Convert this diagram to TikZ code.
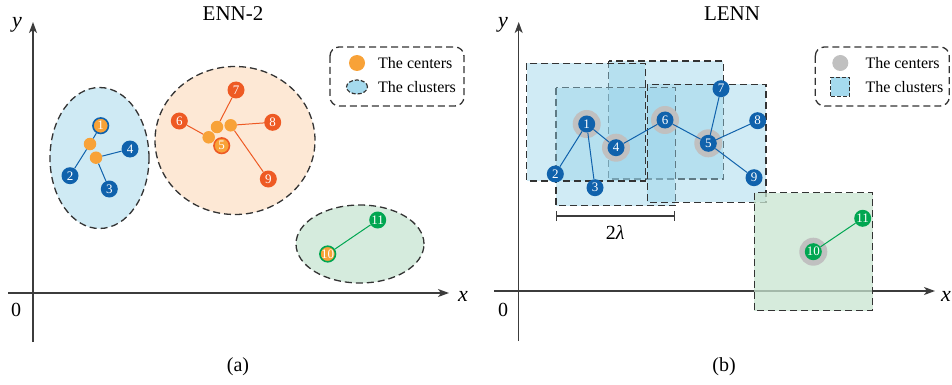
\documentclass[tikz,border=0pt]{standalone}
\usepackage{fontspec}
\setmainfont{Liberation Serif}
\usepackage{tikz}
\usetikzlibrary{
  arrows.meta,
  positioning,
  shapes.geometric
}
\definecolor{ptblue}{RGB}{16,98,172}
\definecolor{ptred}{RGB}{238,90,36}
\definecolor{ptgreen}{RGB}{0,166,81}
\definecolor{ctrorange}{RGB}{248,162,56}
\definecolor{halogray}{RGB}{192,192,192}
\definecolor{fillblue}{RGB}{207,234,244}
\definecolor{fillorange}{RGB}{253,232,213}
\definecolor{fillgreen}{RGB}{213,235,221}
\definecolor{iconblue}{RGB}{165,218,238}
\definecolor{boxblue}{RGB}{150,210,232}
\definecolor{boxgreen}{RGB}{200,228,208}
\definecolor{axisgray}{RGB}{60,60,60}
\tikzset{
  pt/.style={circle, inner sep=0pt, minimum size=17pt, text=white,
    font=\fontsize{13}{13}\selectfont},
  bluept/.style={pt, fill=ptblue},
  redpt/.style={pt, fill=ptred},
  greenpt/.style={pt, fill=ptgreen},
  ctrpt/.style={pt, fill=ctrorange, draw=#1, line width=1.6pt, minimum size=15.5pt},
  ctrdot/.style={circle, fill=ctrorange, inner sep=0pt, minimum size=12.5pt},
  halo/.style={circle, fill=halogray, inner sep=0pt, minimum size=28pt},
  dashline/.style={draw=black!80, line width=1.3pt, dash pattern=on 7pt off 4pt},
  clusterell/.style={ellipse, dashline, inner sep=0pt},
  clusterbox/.style={dashline, fill=boxblue, fill opacity=0.45},
  legendbox/.style={dashline, rounded corners=9pt},
  edge/.style={line width=1pt},
  axis/.style={draw=axisgray, line width=1.3pt,
    -{Stealth[length=11pt, width=8pt, inset=3pt]}},
  titletext/.style={font=\fontsize{21}{21}\selectfont},
  captext/.style={font=\fontsize{20}{20}\selectfont},
  legtext/.style={anchor=west, inner sep=0pt, font=\fontsize{16}{16}\selectfont},
  axlabel/.style={font=\fontsize{22}{22}\selectfont\itshape},
  zerotext/.style={font=\fontsize{20}{20}\selectfont},
}

\begin{document}
\begin{tikzpicture}[x=1pt, y=-1pt]
  \useasboundingbox (0,0) rectangle (952,385);

  % ---------- (a) ENN-2 ----------
  \node[titletext] (titleA) at (233,14) {ENN-2};
  \coordinate (yA0) at (33,342);
  \coordinate (yA1) at (33,22);
  \coordinate (xA0) at (8,293);
  \coordinate (xA1) at (449,293);
  \draw[axis] (yA0) -- (yA1);
  \draw[axis] (xA0) -- (xA1);
  \node[axlabel] (ylabA) at (17,25) {y};
  \node[axlabel] (xlabA) at (463,296) {x};
  \node[zerotext] (zeroA) at (16,310) {0};
  \node[captext] (capA) at (238,367) {(a)};

  % clusters
  \node[clusterell, fill=fillblue, minimum width=99pt, minimum height=141pt]
    (ellA) at (99.5,158) {};
  \node[clusterell, fill=fillorange, minimum width=160pt, minimum height=148pt]
    (ellB) at (235,140.5) {};
  \node[clusterell, fill=fillgreen, minimum width=128pt, minimum height=78pt]
    (ellC) at (360,244) {};

  % blue cluster
  \node[ctrpt=ptblue] (a1) at (100.7,125.7) {1};
  \node[bluept] (a2) at (70,175.7) {2};
  \node[bluept] (a3) at (109.3,189) {3};
  \node[bluept] (a4) at (130,149) {4};
  \node[ctrdot] (ca1) at (90,144) {};
  \node[ctrdot] (ca2) at (96,157.7) {};
  \draw[edge, ptblue] (a1) -- (ca1);
  \draw[edge, ptblue] (ca1) -- (a2);
  \draw[edge, ptblue] (ca2) -- (a4);
  \draw[edge, ptblue] (ca2) -- (a3);

  % orange cluster
  \node[ctrpt=ptred] (a5) at (221.7,145.7) {5};
  \node[redpt] (a6) at (179.3,121) {6};
  \node[redpt] (a7) at (236,90) {7};
  \node[redpt] (a8) at (272.7,122.3) {8};
  \node[redpt] (a9) at (268.3,179) {9};
  \node[ctrdot] (cb1) at (208.7,137.3) {};
  \node[ctrdot] (cb2) at (217,127) {};
  \node[ctrdot] (cb3) at (230.7,125.3) {};
  \draw[edge, ptred] (a6) -- (cb1);
  \draw[edge, ptred] (cb2) -- (a7);
  \draw[edge, ptred] (cb3) -- (a8);
  \draw[edge, ptred] (cb3) -- (a9);

  % green cluster
  \node[ctrpt=ptgreen] (a10) at (327.7,254) {10};
  \node[greenpt] (a11) at (377.7,220) {11};
  \draw[edge, ptgreen] (a10) -- (a11);

  % legend
  \draw[legendbox] (330,47) rectangle (464,106);
  \node[ctrdot, minimum size=16pt] (lgdotA) at (357,63) {};
  \node[legtext] (lgtxtA1) at (378,63) {The centers};
  \node[ellipse, draw=black!80, line width=1.2pt, dash pattern=on 4pt off 2pt,
    fill=iconblue, minimum width=21pt, minimum height=14pt, inner sep=0pt]
    (lgellA) at (357,87) {};
  \node[legtext] (lgtxtA2) at (378,87) {The clusters};

  % ---------- (b) LENN ----------
  \node[titletext] (titleB) at (732,14) {LENN};
  \coordinate (yB0) at (518.7,341);
  \coordinate (yB1) at (518.7,22);
  \coordinate (xB0) at (494,291);
  \coordinate (xB1) at (935,291);
  \draw[axis] (yB0) -- (yB1);
  \draw[axis] (xB0) -- (xB1);
  \node[axlabel] (ylabB) at (503,25) {y};
  \node[axlabel] (xlabB) at (946,296) {x};
  \node[zerotext] (zeroB) at (503,310) {0};
  \node[captext] (capB) at (724,367) {(b)};

  % clusters
  \draw[clusterbox] (608.7,61) rectangle (723.3,179);
  \draw[clusterbox] (556,87.7) rectangle (675.3,205.7);
  \draw[clusterbox] (526.7,63.3) rectangle (645.3,181);
  \draw[clusterbox] (647.3,84.3) rectangle (766,202.3);
  \draw[dashline, fill=boxgreen, fill opacity=0.75] (754.3,192.7) rectangle (872.7,310.7);

  % centers
  \node[halo] (h1) at (586.7,124) {};
  \node[halo] (h4) at (616,147.7) {};
  \node[halo] (h6) at (665,120) {};
  \node[halo] (h5) at (708.3,143.3) {};
  \node[halo] (h10) at (813.3,251.7) {};

  % points
  \node[bluept] (b1) at (h1) {1};
  \node[bluept] (b2) at (555.3,174) {2};
  \node[bluept] (b3) at (595,187.7) {3};
  \node[bluept] (b4) at (h4) {4};
  \node[bluept] (b5) at (h5) {5};
  \node[bluept] (b6) at (h6) {6};
  \node[bluept] (b7) at (721,88.7) {7};
  \node[bluept] (b8) at (757.7,120.7) {8};
  \node[bluept] (b9) at (754,177.7) {9};
  \node[greenpt] (b10) at (h10) {10};
  \node[greenpt] (b11) at (862.7,218.3) {11};
  \foreach \u/\v in {b1/b2, b1/b3, b1/b4, b4/b6, b6/b5, b5/b7, b5/b8, b5/b9}
    \draw[edge, ptblue] (\u) -- (\v);
  \draw[edge, ptgreen] (b10) -- (b11);

  % 2 lambda
  \coordinate (lamL) at (556,216);
  \coordinate (lamR) at (675.3,216);
  \draw[axisgray, line width=1.2pt, {Bar[width=10pt]}-{Bar[width=10pt]}] (lamL) -- (lamR);
  \node[font=\fontsize{20}{20}\selectfont] (lamtxt) at (615.3,232) {2\textit{λ}};

  % legend
  \draw[legendbox] (815.3,47) rectangle (949.3,106);
  \node[halo, minimum size=16pt] (lgdotB) at (840.3,63) {};
  \node[legtext] (lgtxtB1) at (865.3,63) {The centers};
  \node[rectangle, draw=black!80, line width=1.2pt, dash pattern=on 4pt off 2pt,
    fill=iconblue, minimum size=19pt, inner sep=0pt] (lgboxB) at (840.3,87) {};
  \node[legtext] (lgtxtB2) at (865.3,87) {The clusters};
\end{tikzpicture}
\end{document}
